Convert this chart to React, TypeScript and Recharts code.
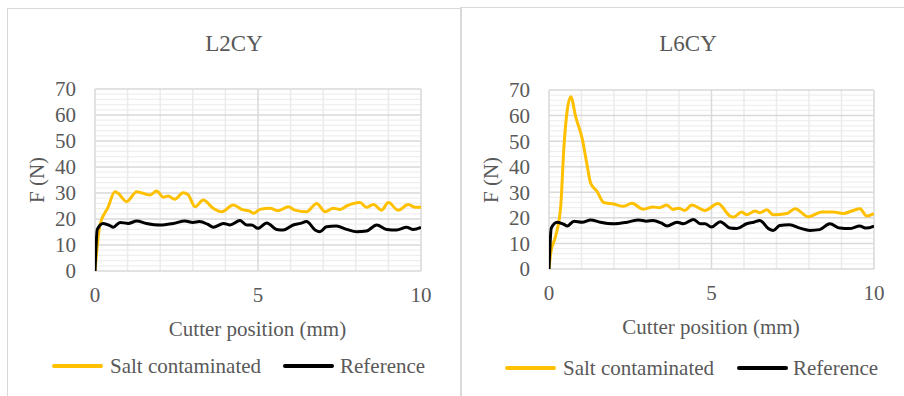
import { Line, LineChart, ReferenceLine, XAxis, YAxis } from 'recharts'

const FONT = "'Liberation Serif', 'Times New Roman', Tinos, 'DejaVu Serif', serif"
const GREY = '#595959'
const SALT = '#FFC000'
const REF = '#000000'

// cutter position (mm) and force (N)
const refX = [0, 0.07, 0.25, 0.45, 0.56, 0.77, 1.02, 1.28, 1.58, 2.0, 2.4, 2.76, 3.0, 3.2, 3.45, 3.63, 3.94, 4.14, 4.45, 4.65, 4.8, 5.0, 5.27, 5.57, 5.78, 6.08, 6.3, 6.49, 6.75, 6.9, 7.1, 7.4, 7.72, 8.03, 8.33, 8.64, 8.95, 9.25, 9.56, 9.76, 10.0]
const refY = [0, 16, 18.3, 17.5, 16.8, 18.7, 18.3, 19.2, 18.3, 17.7, 18.3, 19.2, 18.7, 19, 18, 16.8, 18.3, 17.7, 19.4, 17.7, 17.7, 16.4, 18.5, 16, 15.8, 17.7, 18.3, 19, 15.8, 15.1, 17, 17.3, 16, 15.1, 15.4, 17.7, 16, 15.8, 16.8, 16, 16.8]

const l2SaltX = [0, 0.15, 0.4, 0.61, 0.7, 0.97, 1.28, 1.69, 1.89, 2.1, 2.24, 2.45, 2.7, 2.86, 3.07, 3.32, 3.63, 3.89, 4.24, 4.5, 4.75, 4.86, 5.06, 5.37, 5.62, 5.93, 6.13, 6.49, 6.8, 7.06, 7.31, 7.52, 7.72, 8.13, 8.33, 8.54, 8.79, 9.0, 9.3, 9.61, 9.82, 10.0]
const l2SaltY = [0, 17.7, 24.5, 30.5, 30, 26.7, 30.5, 29.2, 30.8, 28.4, 28.8, 27.6, 30.1, 29.3, 24.7, 27.3, 24.1, 22.8, 25.4, 23.7, 23, 22.2, 23.7, 24.1, 23.2, 24.7, 23.4, 22.8, 26, 22.8, 24.1, 23.7, 25, 26.3, 24.5, 25.6, 23.4, 26.3, 23.4, 25.6, 24.5, 24.5]

const l6SaltX = [0, 0.05, 0.2, 0.36, 0.46, 0.56, 0.67, 0.82, 1.03, 1.18, 1.28, 1.48, 1.68, 1.99, 2.3, 2.55, 2.9, 3.2, 3.4, 3.62, 3.82, 3.98, 4.18, 4.39, 4.8, 5.2, 5.57, 5.67, 5.93, 6.08, 6.34, 6.49, 6.7, 6.9, 7.32, 7.57, 7.98, 8.39, 8.75, 9.05, 9.36, 9.57, 9.77, 10.0]
const l6SaltY = [0, 6, 12.7, 24.5, 47.9, 62, 67.4, 59.6, 50.5, 40, 33.6, 30.3, 26, 25.4, 24.5, 25.7, 23.4, 24.2, 24, 25, 23.3, 23.8, 22.9, 25, 22.9, 25.6, 20.7, 20.3, 22.3, 21.2, 22.7, 22, 23.2, 21.2, 21.7, 23.6, 20.4, 22.3, 22.3, 21.7, 22.9, 23.6, 20.7, 21.7]

const xTicks = [0, 5, 10]
const yTicks = [0, 10, 20, 30, 40, 50, 60, 70]
const xMinor = [1, 2, 3, 4, 6, 7, 8, 9]
const yMinor = [2, 4, 6, 8, 12, 14, 16, 18, 22, 24, 26, 28, 32, 34, 36, 38, 42, 44, 46, 48, 52, 54, 56, 58, 62, 64, 66, 68]

const toPoints = (xs: number[], ys: number[]) => xs.map((x, i) => ({ x, y: ys[i] }))

const refData = toPoints(refX, refY)
const l2Salt = toPoints(l2SaltX, l2SaltY)
const l6Salt = toPoints(l6SaltX, l6SaltY)

const tick = { fill: GREY, fontSize: 21, fontFamily: FONT }

interface PanelProps {
  left: number
  top: number
  width: number
  title: string
  salt: { x: number; y: number }[]
  margin: { top: number; right: number; bottom: number; left: number }
  titleX: number
  xLabel: [number, number]
  yLabel: [number, number]
  legendY: number
  legendX: [number, number, number, number]
}

const centered = (x: number, y: number, extra: React.CSSProperties = {}): React.CSSProperties => ({
  position: 'absolute',
  left: x,
  top: y,
  transform: 'translate(-50%, -50%)',
  lineHeight: 1,
  whiteSpace: 'nowrap',
  color: GREY,
  fontFamily: FONT,
  fontSize: 21,
  ...extra,
})

function Panel(p: PanelProps) {
  const [sx, stx, rx, rtx] = p.legendX
  return (
    <>
      <div style={{ position: 'absolute', left: p.left, top: p.top }}>
        <LineChart width={p.width} height={388} margin={p.margin} style={{ fontFamily: FONT }}>
          <XAxis
            type="number"
            dataKey="x"
            domain={[0, 10]}
            ticks={xTicks}
            interval={0}
            axisLine={false}
            tickLine={false}
            tickSize={0}
            tickMargin={16}
            tick={tick}
            allowDataOverflow
          />
          <YAxis
            type="number"
            domain={[0, 70]}
            ticks={yTicks}
            interval={0}
            width={60}
            axisLine={false}
            tickLine={false}
            tickSize={0}
            tickMargin={19}
            tick={tick}
            allowDataOverflow
          />
          {yMinor.map((v) => (
            <ReferenceLine key={'hy' + v} y={v} stroke="#efefef" strokeWidth={1.2} />
          ))}
          {xMinor.map((v) => (
            <ReferenceLine key={'vx' + v} x={v} stroke="#ebebeb" strokeWidth={1.5} />
          ))}
          {yTicks.map((v) => (
            <ReferenceLine key={'my' + v} y={v} stroke="#d9d9d9" strokeWidth={1.5} />
          ))}
          {xTicks.map((v) => (
            <ReferenceLine key={'mx' + v} x={v} stroke="#d9d9d9" strokeWidth={1.5} />
          ))}
          <Line data={p.salt} dataKey="y" type="monotone" stroke={SALT} strokeWidth={3} dot={false} isAnimationActive={false} />
          <Line data={refData} dataKey="y" type="monotone" stroke={REF} strokeWidth={3} dot={false} isAnimationActive={false} />
        </LineChart>
      </div>
      <div style={centered(p.titleX, 43, { fontSize: 23 })}>{p.title}</div>
      <div style={centered(p.xLabel[0], p.xLabel[1])}>Cutter position (mm)</div>
      <div style={{ ...centered(p.yLabel[0], p.yLabel[1]), transform: 'translate(-50%, -50%) rotate(-90deg)' }}>F (N)</div>
      <div style={{ position: 'absolute', left: sx, top: p.legendY - 2, width: 51, height: 4, borderRadius: 2, background: SALT }} />
      <div style={{ ...centered(stx, p.legendY), transform: 'translate(0, -50%)' }}>Salt contaminated</div>
      <div style={{ position: 'absolute', left: rx, top: p.legendY - 2, width: 51, height: 4, borderRadius: 2, background: REF }} />
      <div style={{ ...centered(rtx, p.legendY), transform: 'translate(0, -50%)' }}>Reference</div>
    </>
  )
}

export default function App() {
  return (
    <div style={{ position: 'fixed', left: 0, top: 0, width: 904, height: 396, background: '#fff', overflow: 'hidden', fontFamily: FONT }}>
      <div style={{ position: 'absolute', left: 7, top: 8, width: 1, height: 400, background: '#d9d9d9' }} />
      <div style={{ position: 'absolute', left: 7, top: 8, width: 454, height: 1, background: '#d9d9d9' }} />
      <div style={{ position: 'absolute', left: 460, top: 7, width: 2, height: 400, background: '#d9d9d9' }} />
      <div style={{ position: 'absolute', left: 461, top: 7, width: 443, height: 1, background: '#d9d9d9' }} />
      <Panel
        left={7}
        top={8}
        width={454}
        title="L2CY"
        salt={l2Salt}
        margin={{ top: 81, right: 40, bottom: 95, left: 28 }}
        titleX={234}
        xLabel={[257.5, 329]}
        yLabel={[37, 180]}
        legendY={366}
        legendX={[52, 110, 283, 340]}
      />
      <Panel
        left={461}
        top={8}
        width={443}
        title="L6CY"
        salt={l6Salt}
        margin={{ top: 82, right: 30, bottom: 97, left: 28 }}
        titleX={688}
        xLabel={[711, 327]}
        yLabel={[491, 180]}
        legendY={368}
        legendX={[505, 563, 737, 793]}
      />
    </div>
  )
}
